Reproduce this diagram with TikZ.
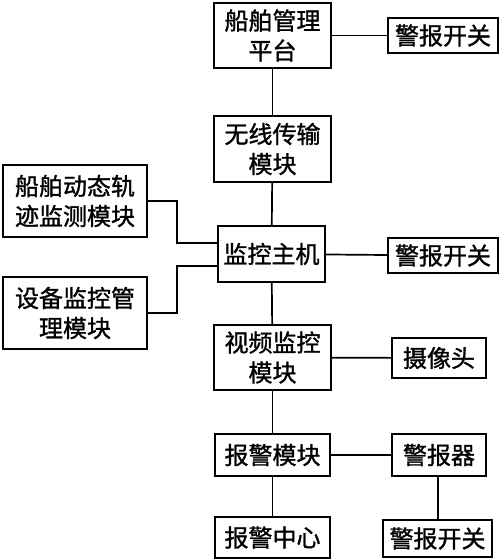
\documentclass[tikz,border=0pt]{standalone}
\usepackage{fontspec}
\newfontfamily\cjk[FakeBold=1.2]{Noto Sans CJK SC}
\usetikzlibrary{calc}
\begin{document}
\begin{tikzpicture}[x={(1pt,0)},y={(0,-1pt)},
  box/.style={draw,line width=1.7pt,inner sep=0pt,align=center,
    font=\cjk\fontsize{24}{30}\selectfont},
  link/.style={line width=1.7pt}]
\useasboundingbox (0,0) rectangle (500,559);
\node[box,minimum width=117pt,minimum height=65pt] (top) at (272.5,35.5) {船舶管理\\平台};
\node[box,minimum width=110pt,minimum height=35pt] (sw1) at (443,35.5) {警报开关};
\node[box,minimum width=117pt,minimum height=66pt] (wl) at (272.5,149) {无线传输\\模块};
\node[box,minimum width=144pt,minimum height=72pt] (track) at (75,201) {船舶动态轨\\迹监测模块};
\node[box,minimum width=107pt,minimum height=56pt] (host) at (271.5,254) {监控主机};
\node[box,minimum width=110pt,minimum height=35pt] (sw2) at (443,255.5) {警报开关};
\node[box,minimum width=144pt,minimum height=72pt] (equip) at (75,313) {设备监控管\\理模块};
\node[box,minimum width=117pt,minimum height=65pt] (video) at (272.5,357.5) {视频监控\\模块};
\node[box,minimum width=94pt,minimum height=40pt] (cam) at (439,358) {摄像头};
\node[box,minimum width=115pt,minimum height=42pt] (alarm) at (272.5,455) {报警模块};
\node[box,minimum width=94pt,minimum height=42pt] (siren) at (439,455) {警报器};
\node[box,minimum width=115pt,minimum height=41pt] (center) at (272.5,537.5) {报警中心};
\node[box,minimum width=109pt,minimum height=37pt] (sw3) at (437.5,538.5) {警报开关};
\draw[link] (top) -- (sw1);
\draw[link] (top) -- (wl);
\draw[link] (wl) -- (host);
\draw[link] (host) -- (sw2);
\draw[link] (track.east) -- ++(29,0) |- ($(host.west)+(0,-11)$);
\draw[link] (equip.east) -- ++(29,0) |- ($(host.west)+(0,12)$);
\draw[link] (host) -- (video);
\draw[link] (video) -- (cam);
\draw[link] (video) -- (alarm);
\draw[link] (alarm) -- (siren);
\draw[link] (alarm) -- (center);
\draw[link] (siren.south -| 438,0) -- (sw3.north -| 438,0);
\end{tikzpicture}
\end{document}
